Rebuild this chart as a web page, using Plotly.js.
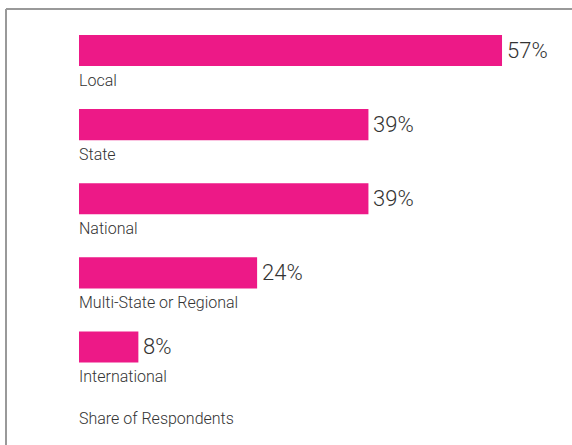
<!DOCTYPE html>
<html>
<head>
<meta charset="utf-8">
<script src="https://cdn.plot.ly/plotly-3.0.1.min.js"></script>
<style>
  html, body { margin: 0; padding: 0; background: #fff; }
  #chart { width: 572px; height: 445px; }
</style>
</head>
<body>
<div id="chart"></div>
<script>
const categories = ["Local", "State", "National", "Multi-State or Regional", "International"];
const shares = [57, 39, 39, 24, 8];
const axisTitle = "Share of Respondents";

const barColor = "#ED1987";
const textColor = "#333333";
const fontFamily = "Roboto, 'Open Sans', sans-serif";

const trace = {
  type: "bar",
  orientation: "h",
  x: shares,
  y: categories,
  marker: { color: barColor },
  width: 0.42,
  hoverinfo: "none"
};

const annotations = [];
categories.forEach((c, i) => {
  annotations.push({
    x: 0, y: c, xref: "x", yref: "y",
    text: c, showarrow: false,
    xanchor: "left", yanchor: "middle",
    yshift: -30, xshift: -2,
    font: { family: fontFamily, size: 16, color: textColor, weight: 300 }
  });
  annotations.push({
    x: shares[i], y: c, xref: "x", yref: "y",
    text: shares[i] + "%", showarrow: false,
    xanchor: "left", yanchor: "middle",
    xshift: 3, yshift: 0,
    font: { family: fontFamily, size: 22, color: textColor, weight: 300 }
  });
});
annotations.push({
  x: 0, y: 0, xref: "x", yref: "paper",
  text: axisTitle, showarrow: false,
  xanchor: "left", yanchor: "middle",
  yshift: -34, xshift: -2,
  font: { family: fontFamily, size: 16, color: textColor, weight: 300 }
});

const plotLeft = 79, plotW = 493;
const layout = {
  width: 572, height: 445,
  margin: { l: plotLeft, r: 0, t: 9, b: 61 },
  paper_bgcolor: "#ffffff",
  plot_bgcolor: "#ffffff",
  showlegend: false,
  xaxis: { range: [0, 66.43], showticklabels: false, showgrid: false, zeroline: false, showline: false, fixedrange: true },
  yaxis: { autorange: "reversed", showticklabels: false, showgrid: false, zeroline: false, showline: false, fixedrange: true },
  annotations: annotations,
  shapes: [
    { type: "line", xref: "paper", yref: "paper",
      x0: (6 - plotLeft) / plotW, x1: 1, y0: 1, y1: 1,
      line: { color: "#999999", width: 2 } },
    { type: "line", xref: "paper", yref: "paper",
      x0: (6 - plotLeft) / plotW, x1: (6 - plotLeft) / plotW, y0: 1, y1: -61 / 375,
      line: { color: "#999999", width: 2 } }
  ]
};

Plotly.newPlot("chart", [trace], layout, { displayModeBar: false, staticPlot: true });
</script>
</body>
</html>
